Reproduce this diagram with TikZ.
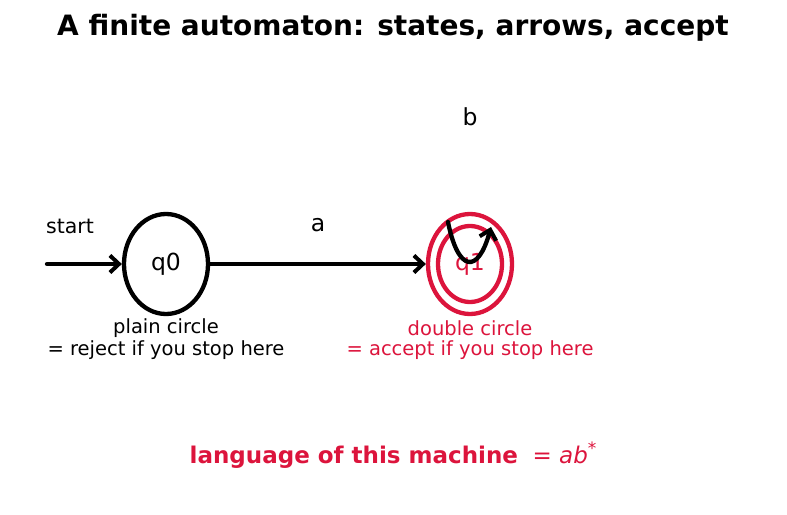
\documentclass[tikz,border=0pt]{standalone}
\usepackage{fontspec}
\setmainfont{DejaVu Sans}
\usetikzlibrary{arrows.meta,shapes.geometric}
\definecolor{crim}{RGB}{220,20,60}
\tikzset{
  lbl/.style={font=\fontsize{19.5}{22}\selectfont, inner sep=0pt},
  st/.style={draw, ellipse, line width=4.3pt},
  arr/.style={line width=4.3pt, -{Straight Barb[length=9pt,width=17pt,line width=4pt]}, line cap=round},
}
\begin{document}
\begin{tikzpicture}[x=1pt,y=-1pt]
\useasboundingbox (0,0) rectangle (787,514);
\node[font=\bfseries\fontsize{28}{32}\selectfont] (title) at (393,28) {A finite automaton: states, arrows, accept};
% states
\node[st, minimum width=84pt, minimum height=100pt, inner sep=0pt] (q0) at (166,264) {};
\node[font=\fontsize{23.5}{26}\selectfont] (q0l) at (166,264) {q0};
\node[st, draw=crim, minimum width=84pt, minimum height=100pt, inner sep=0pt] (q1) at (470,264) {};
\node[st, draw=crim, minimum width=64pt, minimum height=76pt, inner sep=0pt] (q1i) at (470,264) {};
\node[font=\fontsize{23.5}{26}\selectfont, text=crim] (q1l) at (470,264) {q1};
% start
\coordinate (s) at (47,264);
\draw[arr] (s) -- (q0.west);
\node[lbl, font=\fontsize{20.5}{24}\selectfont] (startl) at (70,226) {start};
% a
\draw[arr] (q0.east) -- (q1.west);
\node[lbl, font=\fontsize{23.5}{26}\selectfont] (al) at (318,225) {a};
% self loop b
\coordinate (l1) at (448,222);
\coordinate (l2) at (491,227);
\draw[arr] (l1) .. controls (458,272) and (478,275) .. (l2);
\node[lbl, font=\fontsize{23.5}{26}\selectfont] (bl) at (470,117) {b};
% captions
\node[lbl] (c0a) at (166,328) {plain circle};
\node[lbl] (c0b) at (166,350) {= reject if you stop here};
\node[lbl, text=crim] (c1a) at (470,328) {double circle};
\node[lbl, text=crim] (c1b) at (470,350) {= accept if you stop here};
% language
\node[text=crim, font=\fontsize{23}{26}\selectfont] (lang) at (393,455) {\textbf{language of this machine}\ \ = \textit{ab}\raisebox{0.75ex}{\fontsize{17}{18}\selectfont *}};
\end{tikzpicture}
\end{document}
